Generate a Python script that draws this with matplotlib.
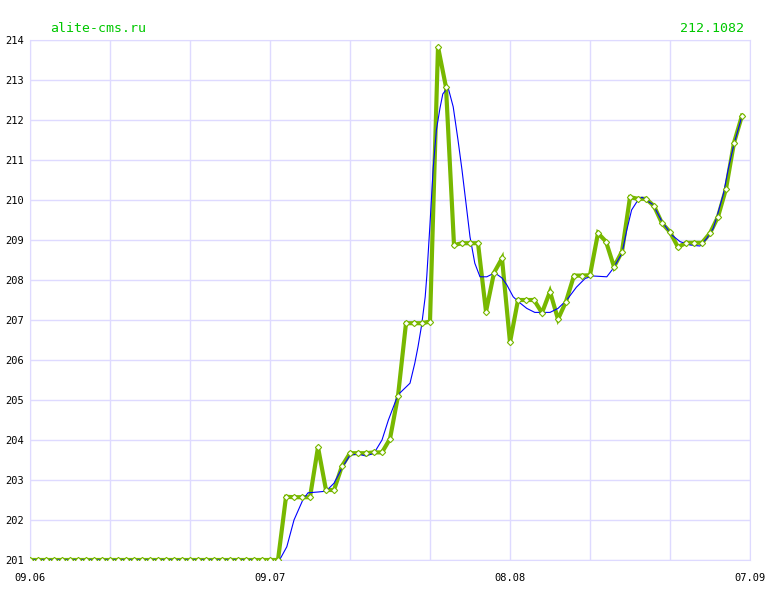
import numpy as np
import matplotlib
matplotlib.use('Agg')
from matplotlib import pyplot as plt

# daily values, 09.06 .. 06.09
price = [201.0]*32 + [
    202.58, 202.57, 202.57, 202.57, 203.82, 202.75, 202.75, 203.35,
    203.67, 203.67, 203.67, 203.69, 203.69, 204.03, 205.10, 206.92,
    206.92, 206.92, 206.96, 213.83, 212.82, 208.875, 208.92, 208.92,
    208.92, 207.21, 208.18, 208.54, 206.44, 207.50, 207.50, 207.50,
    207.18, 207.71, 207.02, 207.46, 208.11, 208.11, 208.12, 209.17,
    208.96, 208.33, 208.71, 210.07, 210.03, 210.03, 209.85, 209.42,
    209.20, 208.82, 208.93, 208.93, 208.93, 209.17, 209.58, 210.28,
    211.43, 212.1082]
days = np.arange(len(price))

# smoothed (blue) curve
trend_x = [0, 27.5, 28.1, 29, 30, 30.6, 31, 32.1, 33, 34.1, 34.75, 36, 37, 38, 39,
           40, 41, 42, 43, 44, 44.8, 46, 47.5, 48.1, 48.5, 48.96, 49.4, 49.6,
           50, 50.4, 50.8, 51.25, 51.6, 52.25, 52.9, 53.5, 54, 54.6, 55, 55.6,
           56.25, 57.1, 58.1, 59, 59.6, 60.4, 61.1, 62.1, 63.1, 65, 66, 67.1,
           68.3, 69.4, 70.4, 72.1, 72.9, 74, 74.6, 75.2, 76, 76.5, 77.9, 79,
           80.2, 81.25, 82.5, 83.75, 84.6, 85.4, 85.8, 86.7, 87.3, 88, 89]
trend_y = [201.0, 201.0, 201.0, 200.88, 200.81, 200.83, 200.93, 201.33, 202.0,
           202.5, 202.68, 202.7, 202.72, 202.92, 203.3, 203.62, 203.65, 203.6,
           203.67, 204.0, 204.5, 205.13, 205.42, 205.92, 206.33, 206.88, 207.58,
           208.1, 209.4, 210.8, 211.75, 212.3, 212.65, 212.82, 212.33, 211.5,
           210.75, 209.75, 209.08, 208.42, 208.08, 208.08, 208.18, 208.05,
           207.88, 207.58, 207.45, 207.29, 207.19, 207.19, 207.29, 207.5,
           207.82, 208.04, 208.1, 208.08, 208.29, 208.67, 209.25, 209.75,
           210.0, 210.07, 209.88, 209.46, 209.13, 208.96, 208.875, 208.85,
           209.04, 209.29, 209.54, 210.17, 210.79, 211.4, 212.1]

xtick_pos = [0, 30, 60, 90]
xtick_lab = ['09.06', '09.07', '08.08', '07.09']
yticks = list(range(201, 215))

grid_c = '#dedaff'
green = '#78b800'
font = 'DejaVu Sans Mono'

fig = plt.figure(figsize=(7.8, 6), dpi=100)
ax = fig.add_axes([30/780, 40/600, 720/780, 520/600])

ax.plot(days, price, color=green, linewidth=3.0, zorder=2, solid_joinstyle='miter')
ax.plot(trend_x, trend_y, color='#0000ff', linewidth=0.8, zorder=3)
ax.plot(days, price, linestyle='none', marker='D', markersize=3.2,
        markerfacecolor='white', markeredgecolor=green, markeredgewidth=0.8, zorder=4)

ax.set_xlim(0, 90)
ax.set_ylim(201, 214)
ax.set_xticks(np.arange(0, 91, 10))
ax.set_xticklabels([''] * 10)
ax.set_yticks(yticks)
ax.set_yticklabels([str(v) for v in yticks], fontsize=7.5, family=font)
ax.tick_params(length=0, pad=4)
ax.grid(True, color=grid_c, linewidth=1.0)
for s in ax.spines.values():
    s.set_color(grid_c)

for p, l in zip(xtick_pos, xtick_lab):
    ax.text(p, 200.55, l, ha='center', va='center', fontsize=7.5, family=font)

fig.text(50/780, 1 - 28/600, 'alite-cms.ru', color='#00c800', fontsize=9.5,
         family=font, ha='left', va='center')
fig.text(744/780, 1 - 28/600, '212.1082', color='#00c800', fontsize=9.5,
         family=font, ha='right', va='center')

fig.savefig('out.png', dpi=100)
